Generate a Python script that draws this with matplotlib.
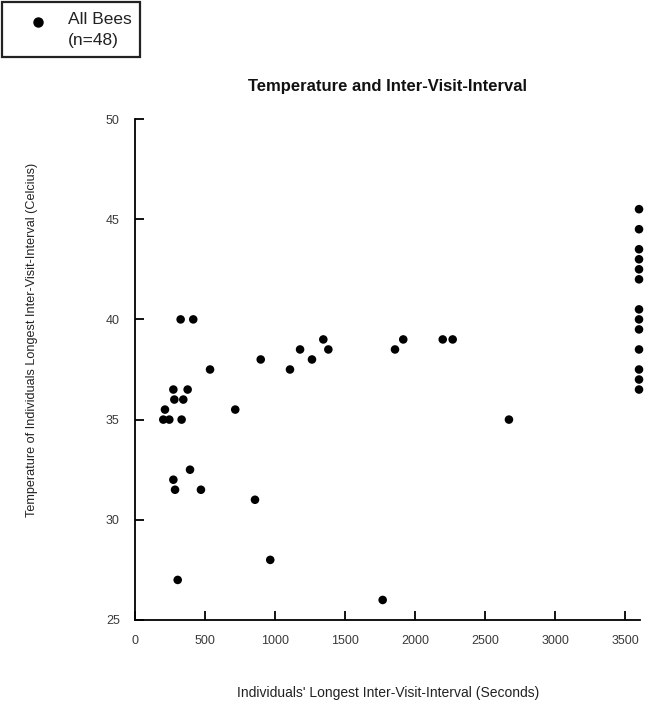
import matplotlib
matplotlib.use("Agg")
import matplotlib.pyplot as plt
from matplotlib.lines import Line2D
from matplotlib.patches import Rectangle

plt.rcParams['font.family'] = ['Liberation Sans', 'DejaVu Sans']

# Longest inter-visit interval (s) and temperature (C) per bee
interval_s = [326, 416, 1345, 1916, 2198, 2269, 1179, 1381, 1857, 898, 1264,
              536, 1107, 274, 376, 281, 345, 214, 716, 202, 245, 333,
              2671, 393, 274, 286, 471, 857, 966, 305, 1769,
              3600, 3600, 3600, 3600, 3600, 3600, 3600, 3600, 3600, 3600,
              3600, 3600, 3600]
temperature_c = [40, 40, 39, 39, 39, 39, 38.5, 38.5, 38.5, 38, 38,
                 37.5, 37.5, 36.5, 36.5, 36, 36, 35.5, 35.5, 35, 35, 35,
                 35, 32.5, 32, 31.5, 31.5, 31, 28, 27, 26,
                 45.5, 44.5, 43.5, 43, 42.5, 42, 40.5, 40, 39.5, 38.5,
                 37.5, 37, 36.5]

x_ticks = [0, 500, 1000, 1500, 2000, 2500, 3000, 3500]
y_ticks = [25, 30, 35, 40, 45, 50]
legend_lines = ['All Bees', '(n=48)']

W, H = 648, 708
fig = plt.figure(figsize=(W / 100, H / 100), dpi=100)
ax = fig.add_axes([135 / W, 1 - 620 / H, (640 - 135) / W, (620 - 119) / H])

ax.scatter(interval_s, temperature_c, s=38, color='black', edgecolors='none',
           clip_on=False, zorder=3)

ax.set_xlim(0, 3607)
ax.set_ylim(25, 50)
ax.set_xticks(x_ticks)
ax.set_yticks(y_ticks)
ax.spines['top'].set_visible(False)
ax.spines['right'].set_visible(False)
for sp in ['left', 'bottom']:
    ax.spines[sp].set_linewidth(1.3)
ax.tick_params(direction='in', length=6.5, width=1.3, labelsize=9,
               labelcolor='#3a3a3a', color='black')
ax.tick_params(axis='x', pad=11)
ax.tick_params(axis='y', pad=11)

fig.text(387 / W, 1 - 87 / H, 'Temperature and Inter-Visit-Interval',
         ha='center', va='center', fontsize=12, fontweight='bold', color='#111111')
fig.text(388 / W, 1 - 693 / H, "Individuals' Longest Inter-Visit-Interval (Seconds)",
         ha='center', va='center', fontsize=10, color='#222222')
fig.text(32 / W, 1 - 340 / H, "Temperature of Individuals Longest Inter-Visit-Interval (Celcius)",
         ha='center', va='center', rotation=90, fontsize=9.1, color='#222222')

# legend box
fig.add_artist(Rectangle((2 / W, 1 - 57 / H), 138 / W, 55 / H, transform=fig.transFigure,
                         facecolor='white', edgecolor='#222222', linewidth=1.6))
fig.add_artist(Line2D([38 / W], [1 - 22 / H], marker='o', markersize=6.5, color='black',
                      linestyle='none', transform=fig.transFigure))
fig.text(68 / W, 1 - 20 / H, legend_lines[0], ha='left', va='center', fontsize=12.5,
         color='#222222')
fig.text(68 / W, 1 - 40 / H, legend_lines[1], ha='left', va='center', fontsize=12.5,
         color='#222222')

fig.savefig('out.png', dpi=100)
